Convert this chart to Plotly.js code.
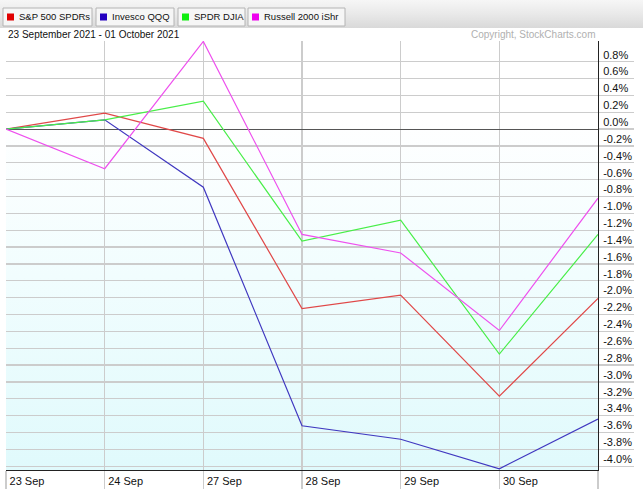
<!DOCTYPE html>
<html>
<head>
<meta charset="utf-8">
<script src="https://cdn.plot.ly/plotly-3.0.1.min.js"></script>
<style>
  html, body { margin: 0; padding: 0; background: #ffffff; }
  #wrap { position: relative; width: 643px; height: 496px; overflow: hidden; background: #ffffff; }
  #hdr { position: absolute; left: 0; top: 0; width: 643px; height: 28px;
         background: linear-gradient(to bottom, #f6f6f6 0%, #e9e9e9 50%, #d9d9d9 100%); }
  #pbg { position: absolute; left: 6px; top: 41px; width: 592px; height: 429px;
         background: linear-gradient(to bottom, #ffffff 0%, #ffffff 18%, #f1fdfe 55%, #e0fafc 100%); }
  #chart { position: absolute; left: 0; top: 0; width: 643px; height: 496px; }
</style>
</head>
<body>
<div id="wrap">
  <div id="hdr"></div>
  <div id="pbg"></div>
  <div id="chart"></div>
</div>
<script>
// ---- data ----
const dates = ["23 Sep", "24 Sep", "27 Sep", "28 Sep", "29 Sep", "30 Sep", "01 Oct"];
const xTickLabels = ["23 Sep", "24 Sep", "27 Sep", "28 Sep", "29 Sep", "30 Sep", ""];
const seriesNames = ["S&P 500 SPDRs", "Invesco QQQ", "SPDR DJIA", "Russell 2000 iShr"];
const spy = [0.00, 0.19, -0.11, -2.13, -1.97, -3.17, -2.01];
const qqq = [0.00, 0.11, -0.69, -3.52, -3.68, -4.03, -3.44];
const dia = [0.00, 0.11, 0.33, -1.33, -1.08, -2.67, -1.25];
const iwm = [0.00, -0.47, 1.04, -1.25, -1.47, -2.39, -0.82];
const yTickVals = [0.8, 0.6, 0.4, 0.2, 0.0, -0.2, -0.4, -0.6, -0.8, -1.0, -1.2, -1.4, -1.6, -1.8, -2.0,
                   -2.2, -2.4, -2.6, -2.8, -3.0, -3.2, -3.4, -3.6, -3.8, -4.0];
const yTickText = ["0.8%", "0.6%", "0.4%", "0.2%", "0.0%", "-0.2%", "-0.4%", "-0.6%", "-0.8%", "-1.0%",
                   "-1.2%", "-1.4%", "-1.6%", "-1.8%", "-2.0%", "-2.2%", "-2.4%", "-2.6%", "-2.8%",
                   "-3.0%", "-3.2%", "-3.4%", "-3.6%", "-3.8%", "-4.0%"];
const dateRangeText = "23 September 2021 - 01 October 2021";
const copyrightText = "Copyright, StockCharts.com";

// ---- styles ----
const lineColors = ["#e04848", "#4038c0", "#48ee48", "#ee50ee"];
const swatchColors = ["#e00000", "#2400c0", "#10ee10", "#ee00ee"];
const values = [spy, qqq, dia, iwm];
const FONT = '"Liberation Sans", Arial, sans-serif';

const traces = values.map((v, i) => ({
  type: 'scatter', mode: 'lines', x: dates, y: v, name: seriesNames[i],
  line: { color: lineColors[i], width: 1.2 }, hoverinfo: 'skip'
}));

// layout geometry
const W = 643, H = 496, L = 6, R = 45, T = 41, B = 26;
const pw = W - L - R, ph = H - T - B;
const px = x => (x - L) / pw;
const py = y => (H - B - y) / ph;

// legend "buttons"
const btnLeft = [3, 96, 178, 248];
const btnRight = [92, 174, 245, 345];
const btnTop = 8, btnBottom = 26;
const esc = s => s.replace(/&/g, '&amp;');

const shapes = [];
const annotations = [];
seriesNames.forEach((n, i) => {
  shapes.push({
    type: 'rect', xref: 'paper', yref: 'paper',
    x0: px(btnLeft[i]), x1: px(btnRight[i]), y0: py(btnBottom), y1: py(btnTop),
    fillcolor: '#f6f6f6', line: { color: '#b4b4b4', width: 1 }, layer: 'above'
  });
  shapes.push({
    type: 'rect', xref: 'paper', yref: 'paper',
    x0: px(btnLeft[i] + 4), x1: px(btnLeft[i] + 11), y0: py(20.5), y1: py(13.5),
    fillcolor: swatchColors[i], line: { width: 0 }, layer: 'above'
  });
  annotations.push({
    xref: 'paper', yref: 'paper', x: px(btnLeft[i] + 14), y: py(17),
    xanchor: 'left', yanchor: 'middle',
    text: esc(n), showarrow: false,
    font: { family: FONT, size: 9.5, color: '#111' }
  });
});
annotations.push({
  xref: 'paper', yref: 'paper', x: px(6), y: py(34), xanchor: 'left', yanchor: 'middle',
  text: dateRangeText, showarrow: false, font: { family: FONT, size: 10, color: '#111' }
});
annotations.push({
  xref: 'paper', yref: 'paper', x: px(598), y: py(34), xanchor: 'right', yanchor: 'middle',
  text: copyrightText, showarrow: false, font: { family: FONT, size: 10, color: '#b0b0b0' }
});

const layout = {
  width: W, height: H,
  margin: { l: L, r: R, t: T, b: B, pad: 0 },
  paper_bgcolor: 'rgba(0,0,0,0)', plot_bgcolor: 'rgba(0,0,0,0)',
  showlegend: false,
  font: { family: FONT, size: 11, color: '#111' },
  xaxis: {
    type: 'category', categoryorder: 'array', categoryarray: dates,
    range: [0, dates.length - 1],
    tickmode: 'array', tickvals: dates, ticktext: xTickLabels,
    showgrid: true, gridcolor: '#cccccc', gridwidth: 1.3,
    showline: true, linecolor: '#222', linewidth: 1,
    ticks: 'outside', ticklen: 18, tickcolor: '#cccccc', tickwidth: 1.3,
    ticklabelshift: 21, ticklabelstandoff: -17,
    tickfont: { family: FONT, size: 11, color: '#111' },
    zeroline: false, fixedrange: true
  },
  yaxis: {
    side: 'right', range: [-4.045, 1.045],
    tickmode: 'array', tickvals: yTickVals, ticktext: yTickText,
    showgrid: true, gridcolor: '#cccccc', gridwidth: 1.3,
    showline: true, linecolor: '#222', linewidth: 1,
    ticks: 'outside', ticklen: 35, tickcolor: '#cccccc', tickwidth: 1.3,
    ticklabelshift: -7, ticklabelstandoff: -33,
    tickfont: { family: FONT, size: 11, color: '#111' },
    zeroline: true, zerolinecolor: '#555', zerolinewidth: 1,
    fixedrange: true
  },
  shapes: shapes,
  annotations: annotations
};

Plotly.newPlot('chart', traces, layout, { staticPlot: true, displayModeBar: false });
</script>
</body>
</html>
